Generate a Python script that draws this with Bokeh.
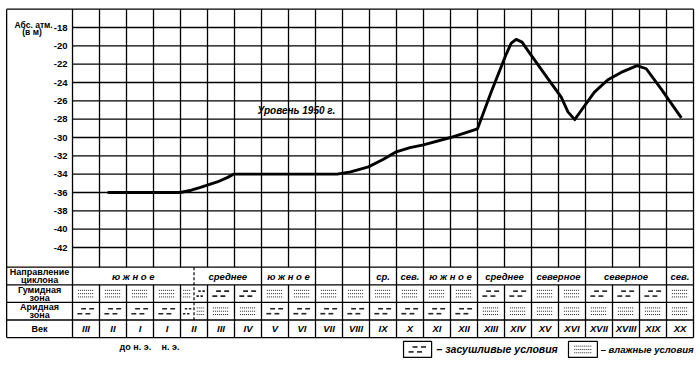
from bokeh.plotting import figure
from bokeh.models import Range1d
from bokeh.core.properties import value
from bokeh.embed import file_html
from bokeh.resources import INLINE

# ---------------- data ----------------
centuries = ["III", "II", "I", "I", "II", "III", "IV", "V", "VI", "VII", "VIII", "IX", "X",
             "XI", "XII", "XIII", "XIV", "XV", "XVI", "XVII", "XVIII", "XIX", "XX"]
bc_count = 3  # first three centuries are B.C.

# sea level curve (x in century columns, y in m abs.)
level_x = [1.3, 4.0, 4.4, 4.74, 5.36, 5.75, 5.96, 9.8, 10.3, 10.96, 11.5, 11.96, 12.5, 13.0,
           14.0, 15.0, 15.5, 16.05, 16.25, 16.43, 16.65, 16.86, 17.48, 18.1, 18.35, 18.6,
           18.84, 19.33, 19.83, 20.32, 20.91, 21.25, 21.8, 22.55]
level_y = [-36.0, -36.0, -35.75, -35.45, -34.85, -34.35, -34.0, -34.0, -33.75, -33.2, -32.4,
           -31.6, -31.1, -30.8, -30.0, -29.05, -25.1, -21.0, -19.7, -19.3, -19.6, -20.5,
           -23.05, -25.6, -27.2, -28.05, -27.05, -25.05, -23.7, -22.9, -22.15, -22.5, -24.7,
           -27.85]

y_ticks = [-18, -20, -22, -24, -26, -28, -30, -32, -34, -36, -38, -40, -42]
y_tick_labels = ["-18", "-20", "-22", "-24", "-26", "-28", "-30", "-32", "-34", "-36",
                 "-38", "-40", "-42"]
y_top, y_bottom = -16, -44.15

level_label = "Уровень 1950 г."

# cyclone direction (merged cells: start/end column)
dir_labels = ["ю ж н о е", "среднее", "ю ж н о е", "", "", "ср.", "сев.", "ю ж н о е",
              "среднее", "северное", "северное", "сев."]
dir_start = [0, 4.5, 7, 9, 10, 11, 12, 13, 15, 17, 19, 22]
dir_end = [4.5, 7, 9, 10, 11, 12, 13, 15, 17, 19, 22, 23]

# w = влажные (moist), d = засушливые (dry); two letters = split column
humid = ["w", "w", "w", "w", "wd", "d", "d", "w", "w", "w", "w", "w", "w", "w", "w",
         "d", "d", "w", "w", "d", "d", "d", "w"]
arid = ["d", "d", "d", "d", "dw", "w", "w", "d", "d", "d", "d", "d", "d", "d", "d",
        "w", "w", "w", "w", "w", "w", "w", "w"]

row_labels = [["Направление", "циклона"], ["Гумидная", "зона"], ["Аридная", "зона"], ["Век"]]
axis_title = ["Абс. атм.", "(в м)"]
era_labels = ["до н. э.", "н. э."]
legend_labels = ["– засушливые условия", "– влажные условия"]

# ---------------- figure ----------------
FONT = value("Liberation Sans")
X0, X1 = -2.667, 23.259
Y1 = -15.054
Y0 = Y1 - 366 / 9.1667
p = figure(width=700, height=366, x_range=Range1d(X0, X1), y_range=Range1d(Y0, Y1),
           x_axis_type=None, y_axis_type=None, output_backend="svg",
           toolbar_location=None, min_border=0, outline_line_color=None,
           background_fill_color="white", border_fill_color="white")

n = len(centuries)
left = -2.44
row_h = 1.92
row_tops = [y_bottom - k * row_h for k in range(4)]
tbl_bottom = y_bottom - 4 * row_h

solid = [[], [], [], []]


def seg(store, xa, ya, xb, yb):
    store[0].append(xa); store[1].append(ya); store[2].append(xb); store[3].append(yb)


# outer frame
seg(solid, left, y_top, n, y_top)
seg(solid, left, y_top, left, tbl_bottom)
# horizontal grid in chart
for t in y_ticks:
    seg(solid, 0, t, n, t)
# table horizontals
for yt in row_tops + [tbl_bottom]:
    seg(solid, left, yt, n, yt)
# verticals in chart and rows 2-4
for i in range(n + 1):
    seg(solid, i, y_top, i, y_bottom)
    seg(solid, i, row_tops[1], i, tbl_bottom)
# row 1 verticals at merged-cell borders
for b in sorted(set([0] + dir_start + dir_end)):
    if b != int(b):
        continue
    seg(solid, b, row_tops[0], b, row_tops[1])

p.segment(solid[0], solid[1], solid[2], solid[3], line_color="black", line_width=1.3)

# split column dashed divider
split_x = [s for s in dir_start if s != int(s)]
p.segment(split_x, [row_tops[0]] * len(split_x), split_x, [row_tops[3]] * len(split_x),
          line_color="black", line_width=1.2, line_dash="3 2")

# sea level curve
p.line(level_x, level_y, line_color="black", line_width=2.9, line_join="round")

# patterns
dots_s = [[], [], [], []]
dash_s = [[], [], [], []]


def pat_dots(xa, xb, yc):
    w = xb - xa
    for dy in (0.36, 0.0, -0.36):
        seg(dots_s, xa + 0.2 * w, yc + dy, xb - 0.2 * w, yc + dy)


def pat_dashes(xa, xb, yc):
    w = xb - xa
    for a, b in ((0.32, 0.5), (0.62, 0.8)):
        seg(dash_s, xa + a * w, yc + 0.27, xa + b * w, yc + 0.27)
    for a, b in ((0.18, 0.36), (0.48, 0.66)):
        seg(dash_s, xa + a * w, yc - 0.27, xa + b * w, yc - 0.27)


def draw_pattern(kind, xa, xb, yc):
    if kind == "w":
        pat_dots(xa, xb, yc)
    else:
        pat_dashes(xa, xb, yc)


for r, row in ((1, humid), (2, arid)):
    yc = row_tops[r] - row_h / 2
    for i, k in enumerate(row):
        if len(k) == 1:
            draw_pattern(k, i, i + 1, yc)
        else:
            draw_pattern(k[0], i, i + 0.5, yc)
            draw_pattern(k[1], i + 0.5, i + 1, yc)

# legend boxes
leg_y = -53.12
leg_boxes = [(12.26, 13.3), (18.37, 19.44)]
p.quad(left=[b[0] for b in leg_boxes], right=[b[1] for b in leg_boxes],
       top=[leg_y + 0.87] * 2, bottom=[leg_y - 0.87] * 2,
       fill_color=None, line_color="black", line_width=1.2)
draw_pattern("d", leg_boxes[0][0], leg_boxes[0][1], leg_y)
draw_pattern("w", leg_boxes[1][0], leg_boxes[1][1], leg_y)

p.segment(dots_s[0], dots_s[1], dots_s[2], dots_s[3], line_color="#222222",
          line_width=1, line_dash="1 1")
p.segment(dash_s[0], dash_s[1], dash_s[2], dash_s[3], line_color="#222222",
          line_width=1.6)

# ---------------- texts ----------------
common = dict(text_font=FONT, text_color="black", text_baseline="middle")

# y tick labels
p.text(x=[-0.185] * len(y_ticks), y=y_ticks, text=y_tick_labels, text_align="right",
       text_font_size="9.5px", text_font_style="bold", **common)
# axis title
p.text(x=[-1.44, -1.5], y=[-17.72, -18.5], text=axis_title, text_align="center",
       text_font_size="8.5px", text_font_style="bold", **common)

# level label
p.text(x=[6.85], y=[-27.05], text=[level_label],
       text_align="left", text_font_size="10px", text_font_style="bold italic", **common)

# row labels
lx, ly, lt = [], [], []
for r, lines in enumerate(row_labels):
    yc = row_tops[r] - row_h / 2
    if len(lines) == 1:
        lx.append(-1.22); ly.append(yc); lt.append(lines[0])
    else:
        lx += [-1.22, -1.22]; ly += [yc + 0.44, yc - 0.46]; lt += lines
p.text(x=lx, y=ly, text=lt, text_align="center", text_font_size="9px",
       text_font_style="bold", **common)

# direction row
dyc = row_tops[0] - row_h / 2
p.text(x=[(a + b) / 2 for a, b in zip(dir_start, dir_end)], y=[dyc] * len(dir_labels),
       text=dir_labels, text_align="center", text_font_size="9.5px",
       text_font_style="bold italic", **common)

# centuries row
cyc = row_tops[3] - row_h / 2
p.text(x=[i + 0.5 for i in range(n)], y=[cyc] * n, text=centuries, text_align="center",
       text_font_size="9.5px", text_font_style="bold italic", **common)

# era labels
p.text(x=[bc_count - 0.67, bc_count + 0.63], y=[-52.8] * 2, text=era_labels,
       text_align="center", text_font_size="9px", text_font_style="bold", **common)

# legend labels
p.text(x=[leg_boxes[0][1] + 0.18], y=[leg_y], text=[legend_labels[0]],
       text_align="left", text_font_size="10.5px", text_font_style="bold italic", **common)
p.text(x=[leg_boxes[1][1] + 0.12], y=[leg_y], text=[legend_labels[1]],
       text_align="left", text_font_size="9.5px", text_font_style="bold italic", **common)

open("out.html", "w").write(file_html(p, INLINE))
